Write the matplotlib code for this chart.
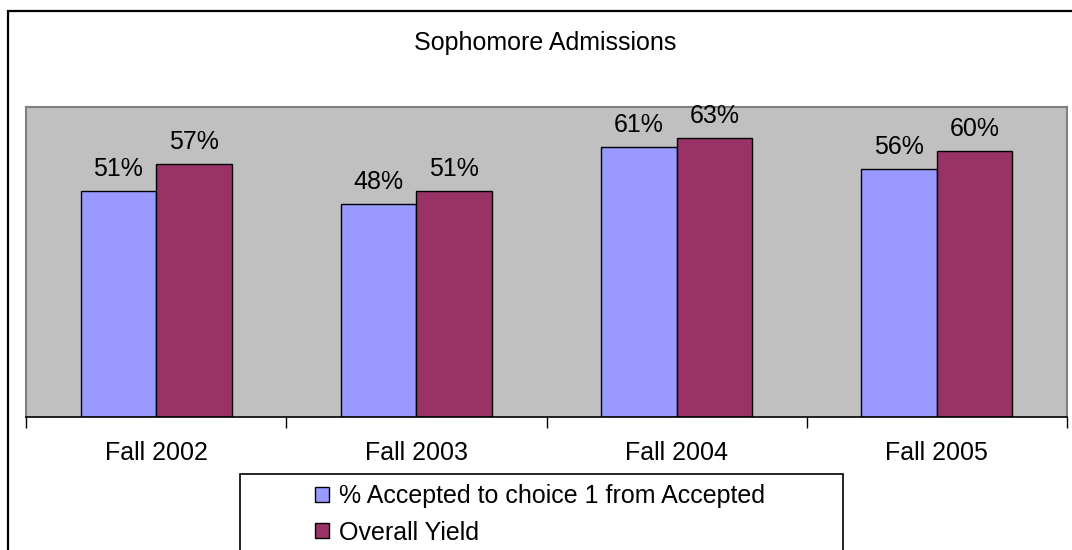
import matplotlib
matplotlib.use("Agg")
import matplotlib.pyplot as plt
from matplotlib.patches import Rectangle, Patch
import numpy as np

plt.rcParams['font.family'] = ['Liberation Sans', 'DejaVu Sans']

# Data
categories = ["Fall 2002", "Fall 2003", "Fall 2004", "Fall 2005"]
accepted_choice1 = [51, 48, 61, 56]
overall_yield = [57, 51, 63, 60]
series_names = ["% Accepted to choice 1 from Accepted", "Overall Yield"]

W, H = 1072, 550
fig = plt.figure(figsize=(W / 100, H / 100), dpi=100)
fig.patch.set_facecolor("white")

# outer chart border (runs past the right and bottom edges)
fig.patches.append(Rectangle((7.5 / W, -0.2), 1.2, 1 - 10.5 / H + 0.2,
                             transform=fig.transFigure, fill=False,
                             edgecolor="black", linewidth=1.6, zorder=0))

ax = fig.add_axes([26 / W, 1 - 416.5 / H, (1067 - 26) / W, (416.5 - 107) / H])
ax.set_facecolor("#C0C0C0")

x = np.arange(len(categories))
bw = 0.29
blue = "#9999FF"
maroon = "#993366"
b1 = ax.bar(x - bw / 2, accepted_choice1, bw, color=blue, edgecolor="black", linewidth=1.0, zorder=3)
b2 = ax.bar(x + bw / 2, overall_yield, bw, color=maroon, edgecolor="black", linewidth=1.0, zorder=3)

fs = 18
for bars, vals in ((b1, accepted_choice1), (b2, overall_yield)):
    for rect, v in zip(bars, vals):
        ax.annotate(f"{v}%", (rect.get_x() + rect.get_width() / 2, v),
                    xytext=(0, 10.8), textcoords="offset points",
                    ha="center", va="baseline", fontsize=fs, color="black")

ax.set_xlim(-0.5, len(categories) - 0.5)
ax.set_ylim(0, 70)
ax.set_yticks([])

# tick marks between categories, labels at category centres
ax.set_xticks(np.arange(-0.5, len(categories) + 0.5, 1.0))
ax.set_xticklabels([])
ax.tick_params(axis="x", which="major", direction="out", length=8, width=1.0, color="black")
ax.set_xticks(x, minor=True)
ax.set_xticklabels(categories, minor=True, fontsize=fs)
ax.tick_params(axis="x", which="minor", length=0, pad=18)

for side in ("top", "right", "left"):
    ax.spines[side].set_color("#808080")
    ax.spines[side].set_linewidth(1.5)
ax.spines["bottom"].set_color("black")
ax.spines["bottom"].set_linewidth(1.2)
ax.spines["bottom"].set_zorder(4)

fig.text(545 / W, 1 - 43 / H, "Sophomore Admissions", ha="center", va="center", fontsize=fs)

# legend frame, extends below the canvas
fig.patches.append(Rectangle((240 / W, -0.2), (843 - 240) / W, 0.2 + 1 - 474 / H,
                             transform=fig.transFigure, fill=False,
                             edgecolor="black", linewidth=1.2, zorder=5))
handles = [Patch(facecolor=blue, edgecolor="black", linewidth=1.0),
           Patch(facecolor=maroon, edgecolor="black", linewidth=1.0)]
fig.legend(handles, series_names, loc="upper left",
           bbox_to_anchor=(315 / W, 1 - 484 / H), frameon=False, fontsize=fs,
           handlelength=0.55, handleheight=0.55, handletextpad=0.4,
           labelspacing=0.5, borderpad=0, borderaxespad=0)

fig.savefig("out.png", dpi=100)
